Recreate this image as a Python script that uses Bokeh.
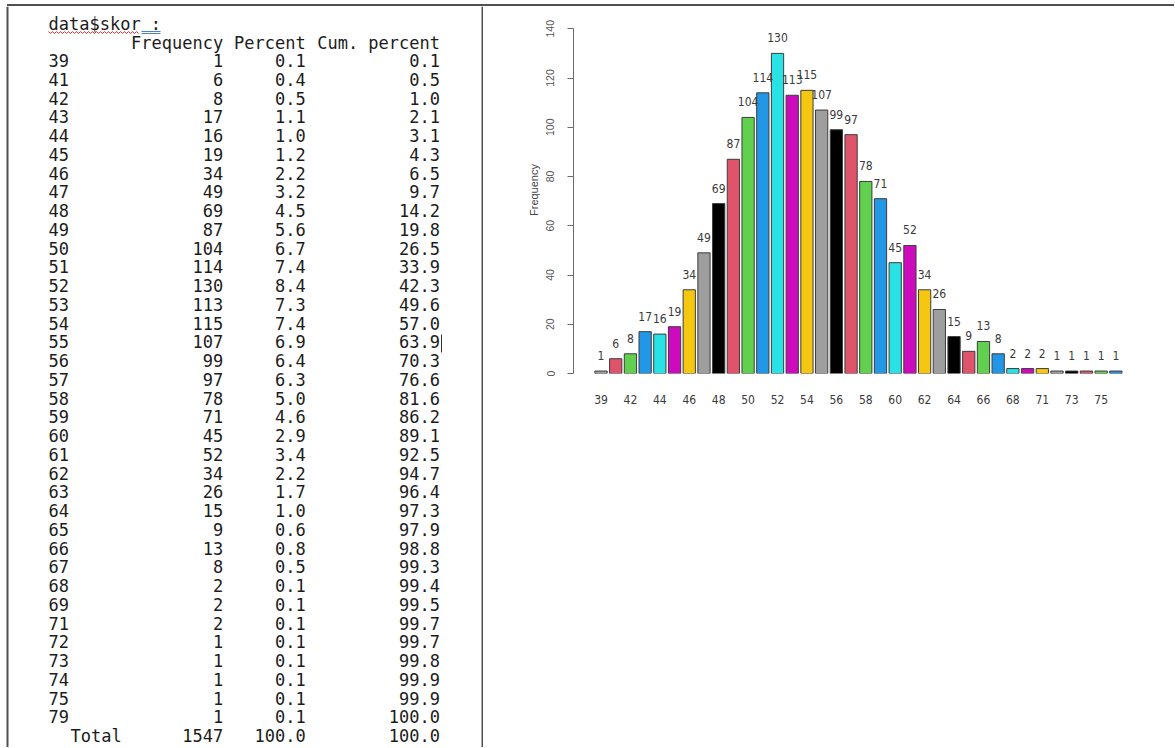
import numpy as np
from bokeh.plotting import figure
from bokeh.models import Range1d, FixedTicker, Span, Div
from bokeh.layouts import row, column
from bokeh.embed import file_html
from bokeh.resources import INLINE
from bokeh.core.properties import value

# ---------------- data ----------------
scores = [39, 41, 42, 43, 44, 45, 46, 47, 48, 49, 50, 51, 52, 53, 54, 55, 56, 57,
          58, 59, 60, 61, 62, 63, 64, 65, 66, 67, 68, 69, 71, 72, 73, 74, 75, 79]
freq = [1, 6, 8, 17, 16, 19, 34, 49, 69, 87, 104, 114, 130, 113, 115, 107, 99, 97,
        78, 71, 45, 52, 34, 26, 15, 9, 13, 8, 2, 2, 2, 1, 1, 1, 1, 1]
percent = ["0.1", "0.4", "0.5", "1.1", "1.0", "1.2", "2.2", "3.2", "4.5", "5.6",
           "6.7", "7.4", "8.4", "7.3", "7.4", "6.9", "6.4", "6.3", "5.0", "4.6",
           "2.9", "3.4", "2.2", "1.7", "1.0", "0.6", "0.8", "0.5", "0.1", "0.1",
           "0.1", "0.1", "0.1", "0.1", "0.1", "0.1"]
cum_percent = ["0.1", "0.5", "1.0", "2.1", "3.1", "4.3", "6.5", "9.7", "14.2", "19.8",
               "26.5", "33.9", "42.3", "49.6", "57.0", "63.9", "70.3", "76.6", "81.6", "86.2",
               "89.1", "92.5", "94.7", "96.4", "97.3", "97.9", "98.8", "99.3", "99.4", "99.5",
               "99.7", "99.7", "99.8", "99.9", "99.9", "100.0"]
total_label = "Total"
total_freq = "1547"
total_percent = "100.0"
total_cum = "100.0"
table_title = "data$skor :"
header = ["Frequency", "Percent", "Cum. percent"]
y_ticks = [0, 20, 40, 60, 80, 100, 120, 140]
y_label = "Frequency"

# ---------------- styles ----------------
r_palette = ["#000000", "#DF536B", "#61D04F", "#2297E6", "#28E2E5", "#CD0BBC", "#F5C710", "#9E9E9E"]
bar_colors = [r_palette[i % 8] for i in range(len(scores))]
bar_colors[0] = "#9E9E9E"
BORDER = "#505050"
MONO = value("DejaVu Sans Mono")
NARROW_NAME = "'Liberation Sans Narrow', 'Arial Narrow', 'DejaVu Sans Condensed', 'Liberation Sans', sans-serif"
NARROW = value(NARROW_NAME)

# layout geometry (page pixels; the page itself has no margin)
ROW_TOP = 6
H = 741
LEFT_W = 483
RIGHT_W = 691

# ---------------- left: frequency table ----------------
left = figure(width=LEFT_W, height=H, x_range=Range1d(0, LEFT_W), y_range=Range1d(ROW_TOP + H, ROW_TOP),
              output_backend="svg", toolbar_location=None, min_border=0, title=None,
              x_axis_type=None, y_axis_type=None)
left.grid.visible = False
left.outline_line_color = None

row_pitch = 18.75
row_y0 = 60
n = len(scores)
ys = row_y0 + row_pitch * np.arange(n + 1)

labels_col = [str(s) for s in scores] + [total_label]
freq_col = [str(f) for f in freq] + [total_freq]
pct_col = percent + [total_percent]
cum_col = cum_percent + [total_cum]
label_x = [48] * n + [70]

txt = dict(text_font=MONO, text_font_size="17px", text_baseline="alphabetic", text_color="#1c1c1c")
left.text(x=label_x, y=ys, text=labels_col, text_align="left", **txt)
left.text(x=[222.7] * (n + 1), y=ys, text=freq_col, text_align="right", **txt)
left.text(x=[305.2] * (n + 1), y=ys, text=pct_col, text_align="right", **txt)
left.text(x=[439.5] * (n + 1), y=ys, text=cum_col, text_align="right", **txt)
left.text(x=[222.7, 305.2, 439.5], y=[42.3] * 3, text=header, text_align="right", **txt)
left.text(x=[48], y=[23], text=[table_title], text_align="left", **txt)

# spell-check squiggle, grammar underline and text cursor (decoration)
sq_x = np.arange(48, 139, 2.0)
sq_y = 32 + np.where(np.arange(len(sq_x)) % 2 == 0, -0.9, 0.9)
left.line(sq_x, sq_y, line_color="#e03030", line_width=1)
left.segment(x0=[141, 141], y0=[31, 33], x1=[160, 160], y1=[31, 33], line_color="#4a7fd4", line_width=1)
left.segment(x0=[441], y0=[334], x1=[441], y1=[352], line_color="#333333", line_width=1)

left.add_layout(Span(location=7, dimension="height", line_color=BORDER, line_width=2))
left.add_layout(Span(location=482, dimension="height", line_color=BORDER, line_width=2))

# ---------------- right: bar chart ----------------
idx = np.arange(n)
right = figure(width=RIGHT_W, height=H,
               x_range=Range1d(-1.8695, 38.987), y_range=Range1d(0, 149.05),
               output_backend="svg", toolbar_location=None, title=None,
               min_border_left=90, min_border_right=0, min_border_top=0, min_border_bottom=374)
right.grid.visible = False
right.outline_line_color = None

right.vbar(x=idx, top=freq, bottom=0, width=0.833, fill_color=bar_colors,
           line_color="#3c3c3c", line_width=1)
right.text(x=idx, y=freq, text=[str(f) for f in freq], text_align="center",
           text_baseline="bottom", y_offset=-11, text_font=NARROW, text_font_size="12px",
           text_color="#3a3a3a")

yax = right.yaxis[0]
yax.ticker = FixedTicker(ticks=y_ticks)
yax.bounds = (y_ticks[0], y_ticks[-1])
yax.major_label_orientation = "vertical"
yax.major_tick_out = 6
yax.major_tick_in = 0
yax.minor_tick_line_color = None
yax.major_label_standoff = 13
yax.major_label_text_font = "Liberation Sans"
yax.major_label_text_font_size = "10.5px"
yax.major_label_text_color = "#555555"
yax.axis_line_color = "#6a6a6a"
yax.major_tick_line_color = "#6a6a6a"
yax.axis_label = y_label
yax.axis_label_text_font = "Liberation Sans"
yax.axis_label_text_font_style = "normal"
yax.axis_label_text_font_size = "11px"
yax.axis_label_text_color = "#444444"
yax.axis_label_standoff = 4

xax = right.xaxis[0]
tick_idx = [int(i) for i in idx[::2]]
xax.ticker = FixedTicker(ticks=tick_idx)
xax.major_label_overrides = {i: str(scores[i]) for i in tick_idx}
xax.axis_line_color = None
xax.major_tick_line_color = None
xax.minor_tick_line_color = None
xax.major_label_standoff = 15
xax.major_label_text_font = NARROW_NAME
xax.major_label_text_font_size = "12px"
xax.major_label_text_color = "#3a3a3a"

top_line = Div(width=LEFT_W + RIGHT_W - 7, height=2, margin=(4, 0, 0, 7),
               styles={"background-color": BORDER})
layout = column(top_line, row(column(left), column(right), spacing=0), spacing=0)

open("out.html", "w").write(file_html(layout, INLINE))
